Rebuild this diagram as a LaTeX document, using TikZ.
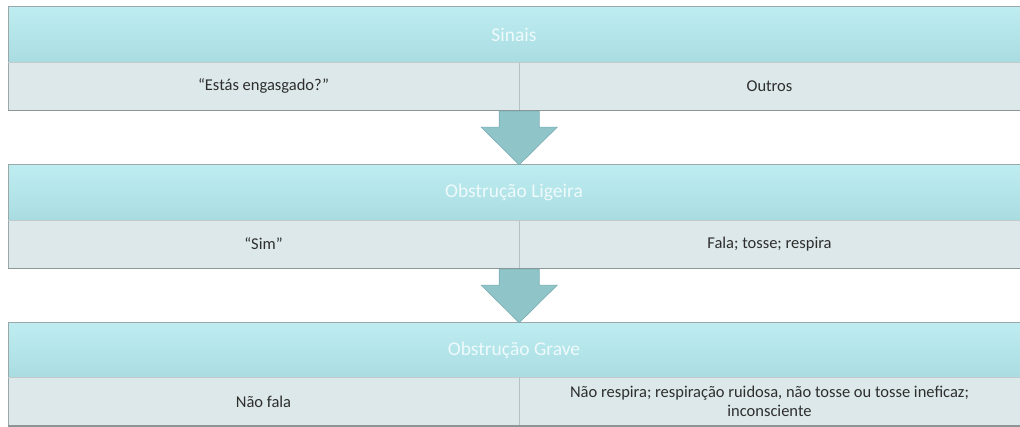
\documentclass[tikz,border=0pt]{standalone}
\usepackage{fontspec}
\setmainfont{Carlito}
\usetikzlibrary{calc}
\definecolor{hdrtop}{HTML}{BEEDF1}
\definecolor{hdrbot}{HTML}{A9DCE1}
\definecolor{rowfill}{HTML}{DCE8E9}
\definecolor{edge}{HTML}{9AA8AA}
\definecolor{divider}{HTML}{B4C2C4}
\definecolor{shadowc}{HTML}{8E9596}
\definecolor{arrowfill}{HTML}{8FC4C8}
\definecolor{arrowedge}{HTML}{7AAEB2}
\definecolor{txt}{HTML}{2E2E2E}
\definecolor{hdrtxt}{HTML}{EEFAFB}
\begin{document}
\begin{tikzpicture}[x=1pt,y=-1pt,
  hdr/.style={rectangle, inner sep=0pt, minimum width=1012pt, minimum height=55pt,
    top color=hdrtop, bottom color=hdrbot, text=hdrtxt, font=\fontsize{19.5}{22}\selectfont},
  cell/.style={rectangle, inner sep=0pt, minimum height=48pt, fill=rowfill, text=txt,
    font=\fontsize{16.5}{19}\selectfont, align=center},
  lcell/.style={cell, minimum width=511pt},
  rcell/.style={cell, minimum width=501pt},
  boxline/.style={draw=edge, line width=0.6pt},
  shadowline/.style={draw=shadowc, line width=1.6pt},
  blockarrow/.style={fill=arrowfill, draw=arrowedge, line width=0.6pt, line join=miter}]
\useasboundingbox (0,0) rectangle (1020,427);
\fill[white] (0,0) rectangle (1020,427);

% Box 1
\node[hdr] (h1) at (514,34.5) {Sinais};
\node[lcell] (l1) at (263.5,86) {“Estás engasgado?”};
\node[rcell] (r1) at (769.5,86) {Outros};
% Box 2
\node[hdr] (h2) at (514,192.5) {Obstrução Ligeira};
\node[lcell] (l2) at (263.5,244) {“Sim”};
\node[rcell] (r2) at (769.5,244) {Fala; tosse; respira};
% Box 3
\node[hdr] (h3) at (514,350.5) {Obstrução Grave};
\node[lcell] (l3) at (263.5,401.5) {Não fala};
\node[rcell] (r3) at (769.5,401.5) {Não respira; respiração ruidosa, não tosse ou tosse ineficaz;\\inconsciente};

\foreach \h/\l/\r in {h1/l1/r1,h2/l2/r2,h3/l3/r3}{
  \draw[boxline] (\l.south west) -- (\h.north west) -- (\h.north east);
  \draw[draw=divider, line width=0.5pt] (\l.north east) -- (\l.south east);
  \draw[shadowline] ($(\l.south west)+(0,0.5)$) -- ($(\r.south east)+(0,0.5)$);
  \draw[draw=edge!60, line width=0.5pt] (\l.north west) -- (\r.north east);
}

% Arrows
\coordinate (a1) at (l1.south east);
\draw[blockarrow] ($(a1)+(-20,1)$) -- ++(0,16) -- ++(-18,0) -- (a1 |- h2.north)
  -- ($(a1)+(38,17)$) -- ++(-18,0) -- ($(a1)+(20,1)$) -- cycle;
\coordinate (a2) at (l2.south east);
\draw[blockarrow] ($(a2)+(-20,1)$) -- ++(0,16) -- ++(-18,0) -- (a2 |- h3.north)
  -- ($(a2)+(38,17)$) -- ++(-18,0) -- ($(a2)+(20,1)$) -- cycle;
\end{tikzpicture}
\end{document}
